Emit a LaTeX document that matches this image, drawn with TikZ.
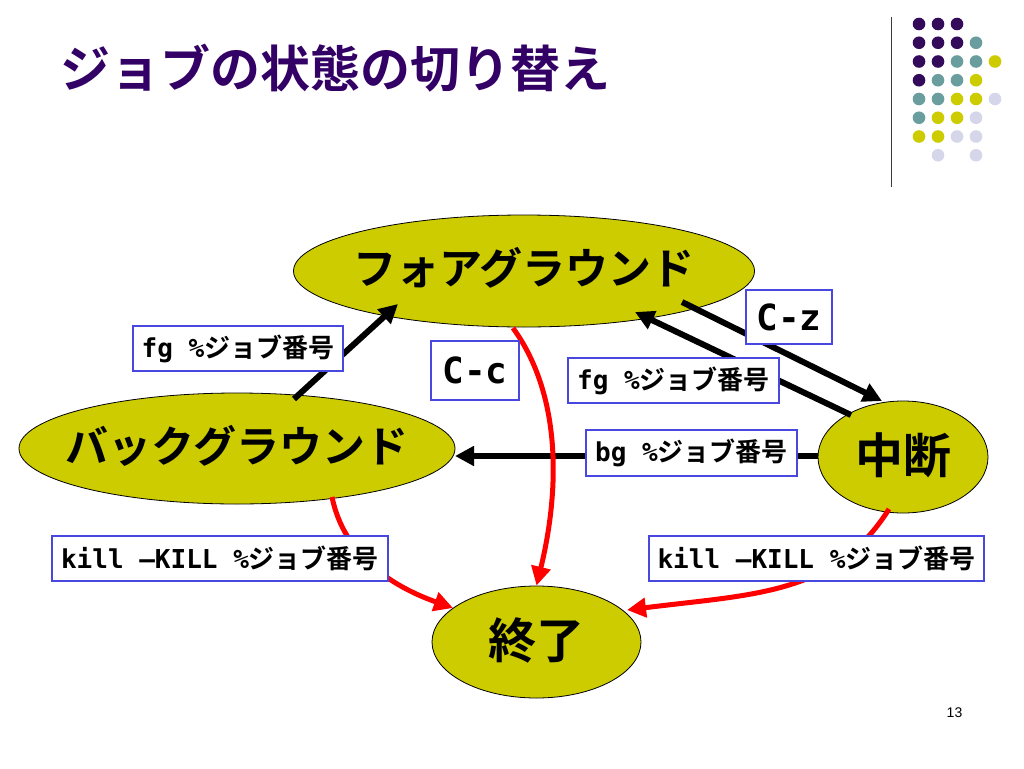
\documentclass[tikz,border=0pt]{standalone}
\usepackage{fontspec}
\setmainfont{Noto Sans CJK JP}[BoldFont={* Bold}]
\setmonofont{DejaVu Sans Mono}
\newfontfamily\pagenofont{Liberation Sans}
\usetikzlibrary{shapes.geometric,arrows.meta}

\definecolor{titlepurple}{RGB}{51,0,102}
\definecolor{statefill}{RGB}{204,204,0}
\definecolor{cmdblue}{RGB}{72,72,224}
\definecolor{rulegray}{RGB}{60,60,60}
\definecolor{dotP}{RGB}{52,10,90}
\definecolor{dotT}{RGB}{106,158,158}
\definecolor{dotY}{RGB}{204,204,0}
\definecolor{dotL}{RGB}{214,214,234}

\tikzset{
	jobstate/.style={ellipse, draw=black, line width=0.8pt, fill=statefill, inner sep=0pt},
	statetext/.style={font=\bfseries\fontsize{43}{43}\selectfont, yshift=3pt},
	bigstatetext/.style={font=\bfseries\fontsize{48}{48}\selectfont, yshift=2pt},
	cmd/.style={draw=cmdblue, line width=1.3pt, fill=white, inner sep=0pt, minimum height=45pt, font=\bfseries\fontsize{26}{26}\selectfont},
	keybox/.style={cmd, font=\ttfamily\bfseries\fontsize{36}{36}\selectfont},
	moveline/.style={line width=6pt, -{Triangle[length=19pt,width=19pt]}},
	killline/.style={moveline, red, line width=5pt}
}

\begin{document}
\begin{tikzpicture}[x=1pt, y=-1pt]
	\fill[white] (0,0) rectangle (1024,768);
	\useasboundingbox (0,0) rectangle (1024,768);

	\node[anchor=west, inner sep=0pt, text=titlepurple, font=\bfseries\fontsize{50}{50}\selectfont] (title) at (60,68) {ジョブの状態の切り替え};

	\draw[rulegray, line width=1.5pt] (891.5,17) -- (891.5,187);
	\foreach \c/\r/\col in {0/0/dotP, 1/0/dotP, 2/0/dotP,
		0/1/dotP, 1/1/dotP, 2/1/dotP, 3/1/dotT,
		0/2/dotP, 1/2/dotP, 2/2/dotT, 3/2/dotT, 4/2/dotY,
		0/3/dotP, 1/3/dotT, 2/3/dotT, 3/3/dotY,
		0/4/dotT, 1/4/dotT, 2/4/dotY, 3/4/dotY, 4/4/dotL,
		0/5/dotT, 1/5/dotY, 2/5/dotY, 3/5/dotL,
		0/6/dotY, 1/6/dotY, 2/6/dotL, 3/6/dotL,
		1/7/dotL, 3/7/dotL}
		\fill[\col] (919+19*\c, 24+18.75*\r) circle (6.3pt);

	\node[jobstate, minimum width=461pt, minimum height=112pt, label={[statetext]center:フォアグラウンド}] (fore) at (524,271) {};
	\node[jobstate, minimum width=436pt, minimum height=111pt, label={[statetext]center:バックグラウンド}] (back) at (237,448.5) {};
	\node[jobstate, minimum width=170pt, minimum height=112pt, label={[bigstatetext]center:中断}] (susp) at (903,457) {};
	\node[jobstate, minimum width=209pt, minimum height=112pt, label={[bigstatetext]center:終了}] (done) at (536.5,642) {};

	\draw[moveline] ([shift={(57,-49.5)}]back.center) -- ([shift={(-126,33)}]fore.center);
	\draw[moveline] ([shift={(158,31)}]fore.center) -- ([shift={(-21,-56)}]susp.center);
	\draw[moveline] ([shift={(-52,-42)}]susp.center) -- ([shift={(111,41)}]fore.center);
	\draw[moveline] ([shift={(-85,-1)}]susp.center) -- ([shift={(218,7.5)}]back.center);

	\draw[killline] ([shift={(-11,57)}]fore.center) .. controls +(52,72) and +(21,-86) .. (done.north);
	\draw[killline] ([shift={(95,48.5)}]back.center) .. controls +(12,58) and +(-62,-22) .. ([shift={(-83.5,-34)}]done.center);
	\draw[killline] ([shift={(-14,52)}]susp.center) .. controls +(-54,86) and +(127,-16) .. ([shift={(90.5,-32)}]done.center);

	\node[cmd, minimum width=210pt] (fgleft) at (238,348.5) {\texttt{fg \%}ジョブ番号};
	\node[keybox, minimum width=88pt, minimum height=59pt] (ctrlc) at (475,370.5) {C-c};
	\node[cmd, minimum width=211pt] (fgright) at (673.5,380.5) {\texttt{fg \%}ジョブ番号};
	\node[keybox, minimum width=86pt, minimum height=54pt] (ctrlz) at (789,317) {C-z};
	\node[cmd, minimum width=211pt, minimum height=46pt] (bgcmd) at (691.5,453) {\texttt{bg \%}ジョブ番号};
	\node[cmd, minimum width=336pt] (killleft) at (220,558.5) {\texttt{kill –KILL \%}ジョブ番号};
	\node[cmd, minimum width=335pt] (killright) at (816.5,558.5) {\texttt{kill –KILL \%}ジョブ番号};

	\node[inner sep=0pt, font=\pagenofont\fontsize{14}{14}\selectfont] (pageno) at (954.5,713) {13};
\end{tikzpicture}
\end{document}
